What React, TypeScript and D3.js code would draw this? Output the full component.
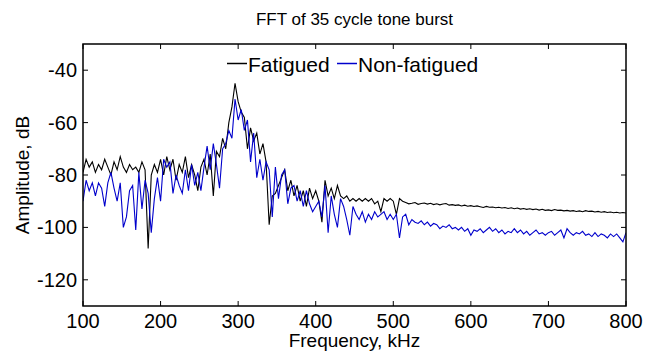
import React from "react";
import * as d3 from "d3";

const title = "FFT of 35 cycle tone burst";
const xLabel = "Frequency, kHz";
const yLabel = "Amplitude, dB";
const seriesNames = ["Fatigued", "Non-fatigued"];
const xTicks = [100, 200, 300, 400, 500, 600, 700, 800];
const yTicks = [-40, -60, -80, -100, -120];

// frequency grid, kHz (100..800 every 4 kHz)
const freqs: number[] = d3.range(100, 801, 4);

// Fatigued (black), dB
const fatigued = [
  -79, -74, -77, -75, -79, -76, -78, -74, -77, -80,
  -75, -78, -73, -77, -79, -76, -78, -77, -79, -75,
  -78, -108, -80, -76, -79, -74, -80, -73, -78, -74,
  -82, -76, -79, -73, -81, -76, -80, -86, -77, -74,
  -80, -72, -88, -71, -73, -66, -70, -60, -54, -45,
  -52, -56, -58, -70, -62, -67, -64, -72, -68, -75,
  -99, -88, -87, -84, -81, -78, -86, -82, -88, -84,
  -90, -86, -92, -85, -89, -86, -90, -98, -82, -88,
  -85, -89, -84, -88, -89, -88, -90, -89, -90, -89,
  -90, -89, -90, -89, -91, -90, -94, -89, -90, -89,
  -90, -95, -89, -90, -90.5, -91, -90.8, -90.5, -91.2, -90.9,
  -90.7, -91.1, -90.8, -91.3, -91, -91.4, -91.1, -90.9, -91.5, -91.3,
  -91.6, -91.4, -91.8, -91.5, -91.9, -91.7, -92, -91.8, -92.1, -92.4,
  -92, -92.3, -92.2, -92.5, -92.3, -92.6, -92.4, -92.8, -92.5, -92.9,
  -92.6, -93, -92.8, -93.1, -92.9, -93.2, -93, -93.4, -93.1, -93.5,
  -93.3, -93.6, -93.2, -93.5, -93.4, -93.7, -93.5, -93.8, -93.6, -93.9,
  -93.7, -94, -93.6, -93.9, -93.8, -94.1, -93.9, -94.2, -94, -94.3,
  -94.1, -94.4, -94.2, -94.5, -94.3, -94.5,
];

// Non-fatigued (blue), dB
const nonFatigued = [
  -90, -82, -86, -83, -88, -83, -85, -92, -83, -79,
  -85, -90, -83, -100, -96, -86, -84, -101, -79, -93,
  -82, -87, -102, -89, -81, -90, -74, -77, -75, -87,
  -80, -84, -87, -78, -86, -76, -84, -79, -86, -77,
  -69, -78, -68, -76, -85, -70, -68, -63, -66, -51,
  -59, -55, -63, -59, -75, -64, -81, -74, -82, -75,
  -78, -96, -77, -89, -80, -78, -91, -85, -84, -90,
  -86, -92, -86, -91, -94, -92, -90, -96, -84, -102,
  -88, -95, -100, -89, -92, -97, -103, -92, -95, -97,
  -94, -98, -95, -97, -94, -96, -95, -94, -97, -95,
  -97, -95, -104, -96, -95, -99, -97, -98, -98.5, -97.5,
  -99, -98, -99.5, -98.5, -99, -100.5, -99.5, -100, -99, -100.5,
  -100, -101, -100, -101.5, -100.5, -103, -101, -101.5, -100.5, -102,
  -101, -100, -101.5, -100.5, -102, -101, -102.5, -101.5, -102, -100.5,
  -102, -101, -102.5, -101.5, -103, -102, -101, -102.5, -102, -103,
  -102, -101.5, -103, -102, -101, -104, -100.5, -102, -103, -102,
  -102.5, -101.5, -103, -102.5, -103.5, -102, -103.5, -102.5, -103, -104,
  -102.5, -103.5, -102.5, -104, -105.5, -102,
];

const colors = ["#000000", "#0000cc"];

const W = 656;
const H = 351;
const PL = 83;
const PR = 626;
const PT = 44;
const PB = 306;

export default function App() {
  const x = d3.scaleLinear().domain([100, 800]).range([PL, PR]);
  const y = d3.scaleLinear().domain([-130, -30]).range([PB, PT]);
  const line = d3
    .line<[number, number]>()
    .x((d) => x(d[0]))
    .y((d) => y(d[1]));
  const seriesData = [fatigued, nonFatigued].map((vals) =>
    vals.map((v, i) => [freqs[i], v] as [number, number])
  );
  const font = "Liberation Sans, Arial, Helvetica, sans-serif";
  const tickLen = 5;

  return (
    <svg
      width={W}
      height={H}
      style={{ position: "absolute", left: 0, top: 0, background: "#fff" }}
      fontFamily={font}
    >
      <rect x={0} y={0} width={W} height={H} fill="#fff" />
      <text x={(PL + PR) / 2} y={25} textAnchor="middle" fontSize={17} fill="#000">
        {title}
      </text>
      <defs>
        <clipPath id="plotclip">
          <rect x={PL} y={PT} width={PR - PL} height={PB - PT} />
        </clipPath>
      </defs>
      <g clipPath="url(#plotclip)">
        {seriesData.map((d, i) => (
          <path
            key={i}
            d={line(d) || ""}
            fill="none"
            stroke={colors[i]}
            strokeWidth={1.1}
            strokeLinejoin="miter"
          />
        ))}
      </g>
      {xTicks.map((t) => (
        <g key={"x" + t}>
          <line x1={x(t)} x2={x(t)} y1={PB} y2={PB - tickLen} stroke="#000" strokeWidth={1} />
          <line x1={x(t)} x2={x(t)} y1={PT} y2={PT + tickLen} stroke="#000" strokeWidth={1} />
          <text x={x(t)} y={PB + 22} textAnchor="middle" fontSize={20} fill="#000">
            {t}
          </text>
        </g>
      ))}
      {yTicks.map((t) => (
        <g key={"y" + t}>
          <line x1={PL} x2={PL + tickLen} y1={y(t)} y2={y(t)} stroke="#000" strokeWidth={1} />
          <line x1={PR} x2={PR - tickLen} y1={y(t)} y2={y(t)} stroke="#000" strokeWidth={1} />
          <text x={PL - 6} y={y(t) + 7} textAnchor="end" fontSize={20} fill="#000">
            {t}
          </text>
        </g>
      ))}
      <rect
        x={PL}
        y={PT}
        width={PR - PL}
        height={PB - PT}
        fill="none"
        stroke="#000"
        strokeWidth={1.5}
      />
      <g>
        <line x1={227} x2={247} y1={63.5} y2={63.5} stroke={colors[0]} strokeWidth={1.5} />
        <text x={248} y={71.5} fontSize={21} fill="#000">
          {seriesNames[0]}
        </text>
        <line x1={337} x2={357} y1={63.5} y2={63.5} stroke={colors[1]} strokeWidth={1.5} />
        <text x={358} y={71.5} fontSize={21} fill="#000">
          {seriesNames[1]}
        </text>
      </g>
      <text x={(PL + PR) / 2} y={347} textAnchor="middle" fontSize={19} fill="#000">
        {xLabel}
      </text>
      <text
        transform={`translate(29, ${(PT + PB) / 2}) rotate(-90)`}
        textAnchor="middle"
        fontSize={19}
        fill="#000"
      >
        {yLabel}
      </text>
    </svg>
  );
}
